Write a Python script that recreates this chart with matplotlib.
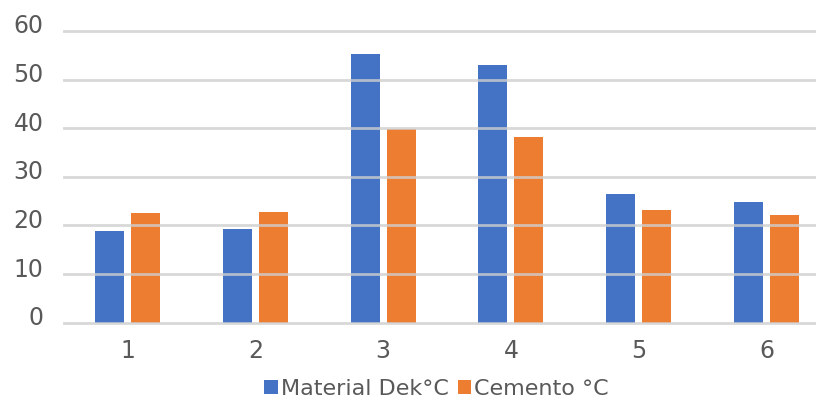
import numpy as np
import matplotlib
matplotlib.use("Agg")
import matplotlib.pyplot as plt
from matplotlib.transforms import ScaledTranslation

# data
categories = ["1", "2", "3", "4", "5", "6"]
material_dek = [18.9, 19.3, 55.3, 53.0, 26.5, 24.8]
cemento = [22.6, 22.8, 39.8, 38.2, 23.2, 22.2]
series_names = ["Material Dek°C", "Cemento °C"]

blue = "#4472C4"
orange = "#ED7D31"
text_col = "#595959"

fig = plt.figure(figsize=(8.16, 4.04), dpi=100)
ax = fig.add_axes([0.0779, 0.2012, 0.9221, 0.7221])

x = np.arange(len(categories))
w = 0.227
ax.bar(x - 0.141, material_dek, w, color=blue, label=series_names[0], zorder=2)
ax.bar(x + 0.141, cemento, w, color=orange, label=series_names[1], zorder=2)

ax.set_xlim(-0.5, 5.387)
ax.set_ylim(0, 60)
ax.set_yticks(range(0, 61, 10))
ax.set_xticks(x)
ax.set_xticklabels(categories)

# gridlines drawn on top of the bars, like the original
ax.grid(axis="y", color="#cfcfcf", linewidth=2.0, alpha=0.8, zorder=3)
ax.set_axisbelow(False)
for gl in ax.get_ygridlines():
    gl.set_clip_on(False)
for s in ax.spines.values():
    s.set_visible(False)

ax.tick_params(axis="y", length=0, pad=14.5, labelsize=17, labelcolor=text_col)
ax.tick_params(axis="x", length=0, pad=12, labelsize=17, labelcolor=text_col)
for lab in ax.get_yticklabels():
    lab.set_transform(lab.get_transform() + ScaledTranslation(0, 0.07, fig.dpi_scale_trans))

leg = fig.legend(loc="center", bbox_to_anchor=(0.535, 0.038), ncol=2, frameon=False,
                 fontsize=16, handlelength=0.6, handleheight=0.6, handletextpad=0.15,
                 columnspacing=0.4, borderaxespad=0, borderpad=0)
for t in leg.get_texts():
    t.set_color(text_col)

fig.savefig("out.png", dpi=100)
